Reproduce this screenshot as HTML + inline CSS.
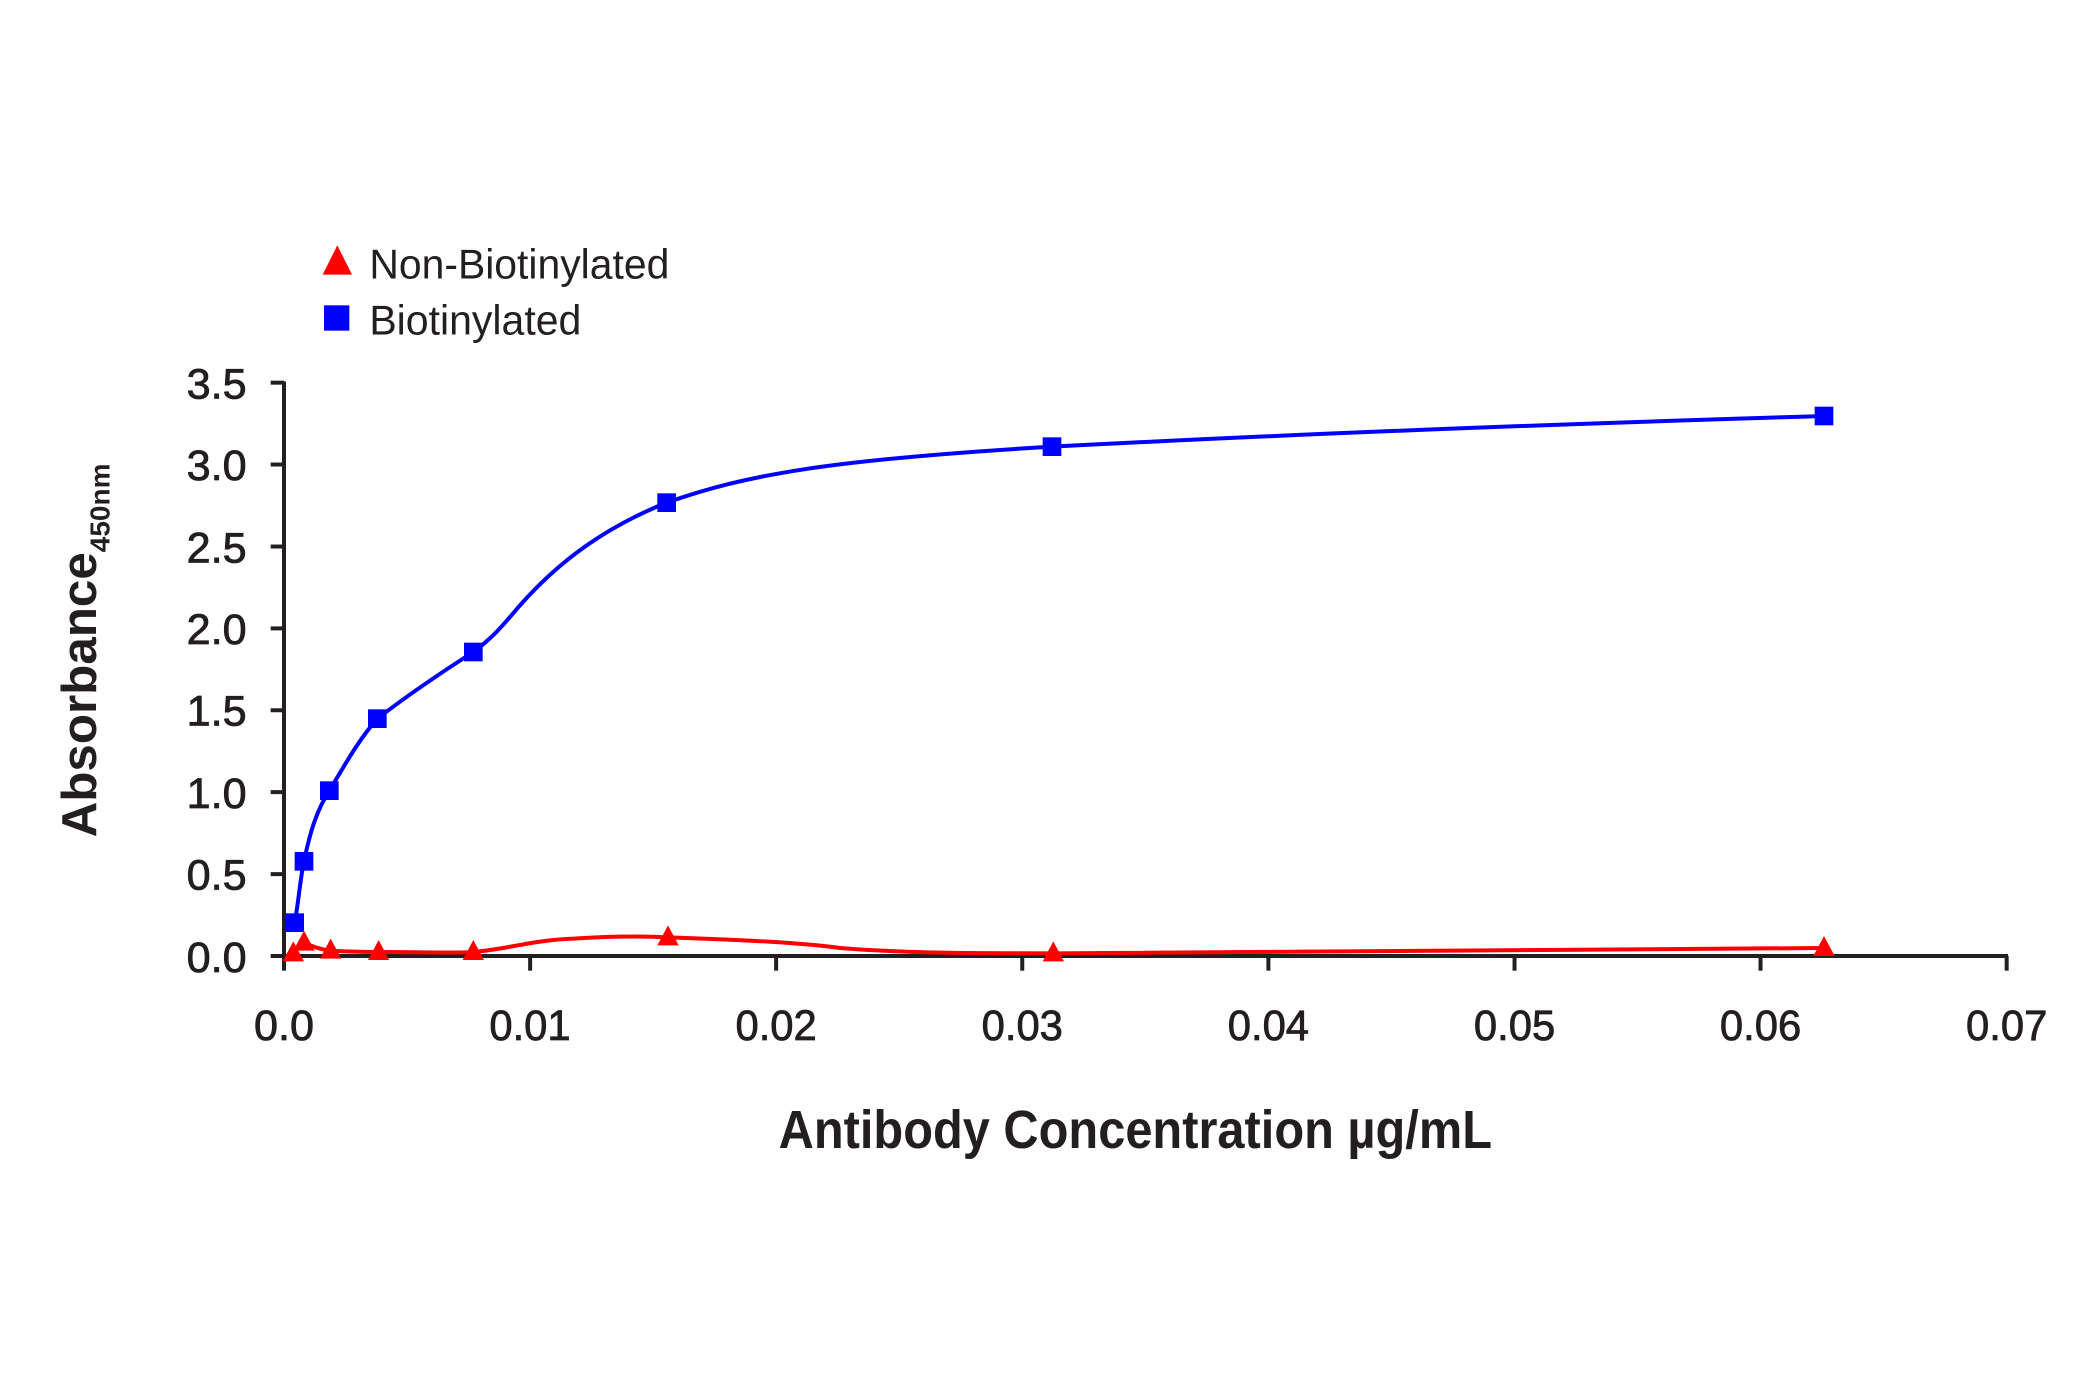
<!DOCTYPE html>
<html><head><meta charset="utf-8"><style>
html,body{margin:0;padding:0;background:#fff;}
svg{display:block;}
.t{font-family:"Liberation Sans",sans-serif;fill:#231f20;}
</style></head><body>
<svg width="2080" height="1400" viewBox="0 0 1560 1050" xmlns="http://www.w3.org/2000/svg">
<g stroke="#231f20" stroke-width="3" fill="none">
<line x1="213" y1="286" x2="213" y2="718"/>
<line x1="212" y1="717" x2="1506" y2="717"/>
<line x1="203" y1="287" x2="213" y2="287"/>
<line x1="203" y1="348.4" x2="213" y2="348.4"/>
<line x1="203" y1="409.9" x2="213" y2="409.9"/>
<line x1="203" y1="471.3" x2="213" y2="471.3"/>
<line x1="203" y1="532.7" x2="213" y2="532.7"/>
<line x1="203" y1="594.1" x2="213" y2="594.1"/>
<line x1="203" y1="655.6" x2="213" y2="655.6"/>
<line x1="203" y1="717" x2="213" y2="717"/>
<line x1="213" y1="717" x2="213" y2="728"/>
<line x1="397.6" y1="717" x2="397.6" y2="728"/>
<line x1="582.1" y1="717" x2="582.1" y2="728"/>
<line x1="766.7" y1="717" x2="766.7" y2="728"/>
<line x1="951.3" y1="717" x2="951.3" y2="728"/>
<line x1="1135.9" y1="717" x2="1135.9" y2="728"/>
<line x1="1320.4" y1="717" x2="1320.4" y2="728"/>
<line x1="1505" y1="717" x2="1505" y2="728"/>
</g>
<g class="t" font-size="32" stroke="#231f20" stroke-width="0.6">
<text x="140" y="299" textLength="45" lengthAdjust="spacingAndGlyphs">3.5</text>
<text x="140" y="360" textLength="45" lengthAdjust="spacingAndGlyphs">3.0</text>
<text x="140" y="422" textLength="45" lengthAdjust="spacingAndGlyphs">2.5</text>
<text x="140" y="483" textLength="45" lengthAdjust="spacingAndGlyphs">2.0</text>
<text x="140" y="544" textLength="45" lengthAdjust="spacingAndGlyphs">1.5</text>
<text x="140" y="606" textLength="45" lengthAdjust="spacingAndGlyphs">1.0</text>
<text x="140" y="667" textLength="45" lengthAdjust="spacingAndGlyphs">0.5</text>
<text x="140" y="729" textLength="45" lengthAdjust="spacingAndGlyphs">0.0</text>
<text x="190.5" y="780" textLength="45" lengthAdjust="spacingAndGlyphs">0.0</text>
<text x="367" y="780" textLength="61" lengthAdjust="spacingAndGlyphs">0.01</text>
<text x="551.6" y="780" textLength="61" lengthAdjust="spacingAndGlyphs">0.02</text>
<text x="736.2" y="780" textLength="61" lengthAdjust="spacingAndGlyphs">0.03</text>
<text x="920.8" y="780" textLength="61" lengthAdjust="spacingAndGlyphs">0.04</text>
<text x="1105.4" y="780" textLength="61" lengthAdjust="spacingAndGlyphs">0.05</text>
<text x="1289.9" y="780" textLength="61" lengthAdjust="spacingAndGlyphs">0.06</text>
<text x="1474.5" y="780" textLength="61" lengthAdjust="spacingAndGlyphs">0.07</text>
</g>
<text class="t" x="584" y="861" font-size="40" font-weight="bold" textLength="535" lengthAdjust="spacingAndGlyphs">Antibody Concentration µg/mL</text>
<text transform="translate(72,628) rotate(-90)" font-family="Liberation Sans,sans-serif" font-weight="bold" font-size="37" fill="#231f20">Absorbance<tspan font-size="21" dy="10">450nm</tspan></text>
<polygon points="253,184 264,206 242,206" fill="#ff0000"/>
<text class="t" x="277" y="209" font-size="31" textLength="225" lengthAdjust="spacingAndGlyphs">Non-Biotinylated</text>
<rect x="243" y="229" width="19" height="19" fill="#0000ff"/>
<text class="t" x="277" y="251" font-size="31" textLength="159" lengthAdjust="spacingAndGlyphs">Biotinylated</text>
<path d="M221,692 C224,676 225,660 228,646 C233,622 238,607 247,593 C258,575 268,556 283,539 C305,522 330,505 355,489 C370,478 378,468 390,454 C420,420 455,395 500,377 C560,356 620,345 789,335 C1000,324 1200,317 1368,312" fill="none" stroke="#0000ff" stroke-width="3"/>
<g fill="#0000ff">
<rect x="214" y="685" width="14" height="14"/>
<rect x="221" y="639" width="14" height="14"/>
<rect x="240" y="586" width="14" height="14"/>
<rect x="276" y="532" width="14" height="14"/>
<rect x="348" y="482" width="14" height="14"/>
<rect x="493" y="370" width="14" height="14"/>
<rect x="782" y="328" width="14" height="14"/>
<rect x="1361" y="305" width="14" height="14"/>
</g>
<path d="M220,715 C223,710 225,707 228,707 C235,710 240,712 248,713 C265,714 275,714 284,714 C310,714 340,715 355,714 C380,712 400,705 430,704 C460,702 480,702 501,703 C560,705 600,707 630,711 C680,715 730,715 790,715 C1000,715 1200,713 1368,711" fill="none" stroke="#ff0000" stroke-width="3"/>
<g fill="#ff0000">
<polygon points="220,706 228,721 212,721"/>
<polygon points="228,698 236,713 220,713"/>
<polygon points="248,704 256,719 240,719"/>
<polygon points="284,705 292,720 276,720"/>
<polygon points="355,705 363,720 347,720"/>
<polygon points="501,694 509,709 493,709"/>
<polygon points="790,706 798,721 782,721"/>
<polygon points="1368,702 1376,717 1360,717"/>
</g>
</svg>
</body></html>
